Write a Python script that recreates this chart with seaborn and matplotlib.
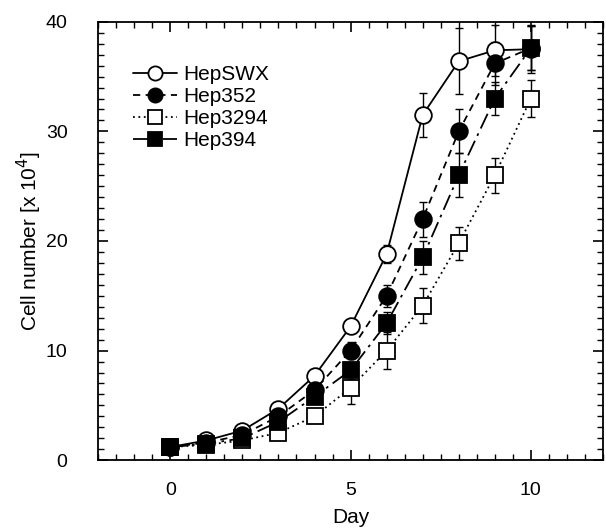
import numpy as np
import pandas as pd
import seaborn as sns
import matplotlib.pyplot as plt
from matplotlib.ticker import MultipleLocator

# data (mean +/- error, cells x 10^4)
days = [0, 1, 2, 3, 4, 5, 6, 7, 8, 9, 10]
hepswx = [1.2, 1.8, 2.7, 4.7, 7.7, 12.2, 18.8, 31.5, 36.4, 37.4, 37.5]
hepswx_err = [0.3, 0.3, 0.3, 0.4, 0.5, 0.6, 0.8, 2.0, 3.0, 2.3, 2.2]
hep352 = [1.2, 1.6, 2.3, 4.0, 6.4, 10.0, 15.0, 22.0, 30.0, 36.2, 37.6]
hep352_err = [0.3, 0.3, 0.3, 0.4, 0.5, 0.8, 1.0, 1.6, 2.0, 2.0, 2.0]
hep3294 = [1.2, 1.4, 1.8, 2.5, 4.0, 6.6, 10.0, 14.1, 19.8, 26.0, 33.0]
hep3294_err = [0.3, 0.3, 0.3, 0.4, 0.5, 1.5, 1.7, 1.6, 1.5, 1.6, 1.7]
hep394 = [1.2, 1.5, 2.0, 3.5, 5.8, 8.2, 12.5, 18.5, 26.0, 33.0, 37.6]
hep394_err = [0.3, 0.3, 0.3, 0.4, 0.5, 0.8, 1.0, 1.5, 2.0, 1.5, 2.0]

labels = ['HepSWX', 'Hep352', 'Hep3294', 'Hep394']
means = [hepswx, hep352, hep3294, hep394]
errs = [hepswx_err, hep352_err, hep3294_err, hep394_err]

sns.set_style('ticks')
plt.rcParams['font.family'] = ['Liberation Sans', 'DejaVu Sans']
plt.rcParams['text.color'] = 'black'
plt.rcParams['axes.labelcolor'] = 'black'
plt.rcParams['xtick.color'] = 'black'
plt.rcParams['ytick.color'] = 'black'

styles = {
    'HepSWX': dict(marker='o', mfc='white', ls='-'),
    'Hep352': dict(marker='o', mfc='black', ls=(0, (4, 3))),
    'Hep3294': dict(marker='s', mfc='white', ls=(0, (1, 2))),
    'Hep394': dict(marker='s', mfc='black', ls=(0, (9, 3, 1.5, 3))),
}

fig = plt.figure(figsize=(6.06, 5.32), dpi=100)
ax = fig.add_axes([0.162, 0.135, 0.833, 0.824])

for lab, m, e in zip(labels, means, errs):
    df = pd.DataFrame({'Day': days, 'Cells': m})
    st = styles[lab]
    ax.errorbar(days, m, yerr=e, fmt='none', ecolor='black', elinewidth=1.0,
                capsize=3, capthick=1.0, zorder=2)
    sns.lineplot(data=df, x='Day', y='Cells', ax=ax, color='black',
                 linestyle=st['ls'], linewidth=1.3, marker=st['marker'],
                 markersize=12, markerfacecolor=st['mfc'],
                 markeredgecolor='black', markeredgewidth=1.3,
                 label=lab, zorder=3)

ax.set_xlim(-2, 12)
ax.set_ylim(0, 40)
ax.xaxis.set_major_locator(MultipleLocator(5))
ax.xaxis.set_minor_locator(MultipleLocator(0.5))
ax.yaxis.set_major_locator(MultipleLocator(10))
ax.yaxis.set_minor_locator(MultipleLocator(1))
ax.tick_params(which='both', direction='in', top=True, right=True, color='black')
ax.tick_params(which='major', length=7, width=1.2, labelsize=14)
ax.tick_params(axis='y', which='major', pad=22)
ax.tick_params(axis='x', which='major', pad=16)
ax.tick_params(which='minor', length=4, width=1.0)
for sp in ax.spines.values():
    sp.set_linewidth(1.3)
    sp.set_color('black')

ax.set_xlabel('Day', fontsize=15, labelpad=6)
ax.set_ylabel('Cell number [x 10$^4$]', fontsize=15, labelpad=1)

ax.legend(loc='upper left', bbox_to_anchor=(0.04, 0.935), frameon=False,
          fontsize=15, handlelength=2.1, handletextpad=0.3,
          labelspacing=0.15, markerscale=0.85, borderpad=0.2)

plt.savefig('out.png', dpi=100)
